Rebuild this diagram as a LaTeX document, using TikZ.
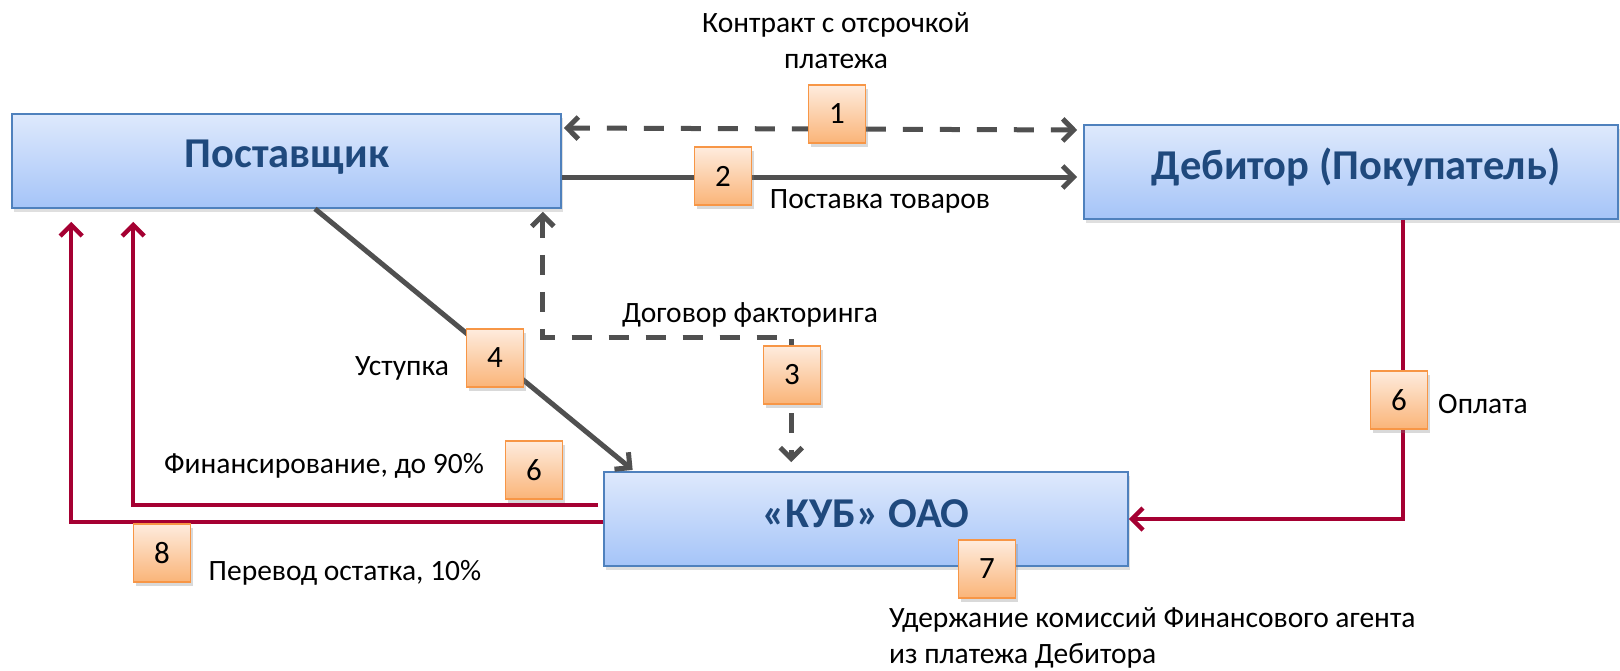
\documentclass[tikz,border=0pt]{standalone}
\usepackage{fontspec}
\setmainfont{Carlito}
\usetikzlibrary{arrows.meta,shadows,calc}
\definecolor{boxtop}{RGB}{222,233,252}
\definecolor{boxbot}{RGB}{165,196,248}
\definecolor{boxline}{RGB}{79,129,189}
\definecolor{boxtext}{RGB}{31,73,125}
\definecolor{numtop}{RGB}{254,236,222}
\definecolor{numbot}{RGB}{250,180,120}
\definecolor{numline}{RGB}{247,150,70}
\definecolor{grayline}{RGB}{80,80,80}
\definecolor{redline}{RGB}{165,0,50}
\tikzset{
  mainbox/.style={draw=boxline, line width=1.6pt, top color=boxtop, bottom color=boxbot,
    minimum height=94pt, inner sep=0pt,
    drop shadow={opacity=0.25, shadow xshift=2pt, shadow yshift=-4pt}},
  boxlabel/.style={text=boxtext, font=\fontsize{42.5}{46}\selectfont\bfseries, inner sep=0pt},
  numbox/.style={draw=numline, line width=1.6pt, top color=numtop, bottom color=numbot,
    minimum width=57pt, minimum height=58pt, inner sep=0pt,
    font=\fontsize{31}{34}\selectfont,
    drop shadow={opacity=0.3, shadow xshift=2pt, shadow yshift=-4pt}},
  txt/.style={font=\fontsize{29.5}{36}\selectfont, inner sep=0pt, align=center},
  grayarrow/.style={draw=grayline, line width=5pt, >={Straight Barb[length=11pt,width=22pt]}},
  redarrow/.style={draw=redline, line width=4.5pt, >={Straight Barb[length=11pt,width=22pt]}},
  dashedline/.style={dash pattern=on 20pt off 17pt},
}
\begin{document}
\begin{tikzpicture}[x=1pt,y=-1pt]
\useasboundingbox (0,0) rectangle (1620,670);

% main boxes
\node[mainbox, minimum width=549pt] (posta) at (286.5,161) {};
\node[boxlabel] (postaT) at (287,157) {Поставщик};
\node[mainbox, minimum width=534pt] (debi) at (1351,172) {};
\node[boxlabel] (debiT) at (1356,167) {Дебитор (Покупатель)};
\node[mainbox, minimum width=524pt] (kub) at (866,519) {};
\node[boxlabel] (kubT) at (866,514) {«КУБ» ОАО};

% anchor coordinates
\coordinate (p1) at ([yshift=33pt]posta.east);
\coordinate (d1) at ([yshift=42pt]debi.west);
\coordinate (p2) at ([yshift=-16pt]posta.east);
\coordinate (d2) at ([yshift=-5pt]debi.west);
\coordinate (p3) at ([xshift=-19pt]posta.south east);
\coordinate (c3) at (700,337);
\coordinate (k3) at ([xshift=188pt]kub.north west);
\coordinate (p4) at ([xshift=28.5pt]posta.south);
\coordinate (k4) at ([xshift=31pt]kub.north west);
\coordinate (k5) at ([yshift=14pt]kub.west);
\coordinate (p5) at ([xshift=122pt]posta.south west);
\coordinate (k6) at ([yshift=-3pt]kub.west);
\coordinate (p6) at ([xshift=60pt]posta.south west);
\coordinate (d7) at ([xshift=320pt]debi.south west);

% connectors
\draw[grayarrow, dashedline, <->, shorten <=2pt, shorten >=6pt] (p1) -- (d1);
\draw[grayarrow, ->, shorten >=6pt] (p2) -- (d2);
\draw[grayarrow, dashedline, <->, shorten <=3pt, shorten >=9pt] (p3) |- (c3) -| (k3);
\draw[grayarrow, ->, shorten >=2pt] (p4) -- (k4);
\draw[redarrow, ->, shorten <=5pt, shorten >=13pt] (k5) -| (p5);
\draw[redarrow, ->, shorten >=13pt] (k6) -| (p6);
\draw[redarrow, ->] (d7) |- (kub.east);

% number boxes
\node[numbox] (n1) at (837,114) {1};
\node[numbox] (n2) at (723,176) {2};
\node[numbox] (n3) at (792,375) {3};
\node[numbox] (n4) at (495,358) {4};
\node[numbox] (n6a) at (534,470) {6};
\node[numbox] (n6b) at (1399,400) {6};
\node[numbox] (n7) at (987,569) {7};
\node[numbox] (n8) at (162,553) {8};

% labels
\node[txt] (t1) at (836,41) {Контракт с отсрочкой\\платежа};
\node[txt] (t2) at (880,201) {Поставка товаров};
\node[txt] (t3) at (750,315) {Договор факторинга};
\node[txt] (t4) at (402,368) {Уступка};
\node[txt] (t6a) at (324,466) {Финансирование, до 90\%};
\node[txt] (t6b) at (1483,404) {Оплата};
\node[txt] (t8) at (345,573) {Перевод остатка, 10\%};
\node[txt, anchor=west, align=left] (t7) at (889,638) {Удержание комиссий Финансового агента\\из платежа Дебитора};
\end{tikzpicture}
\end{document}
